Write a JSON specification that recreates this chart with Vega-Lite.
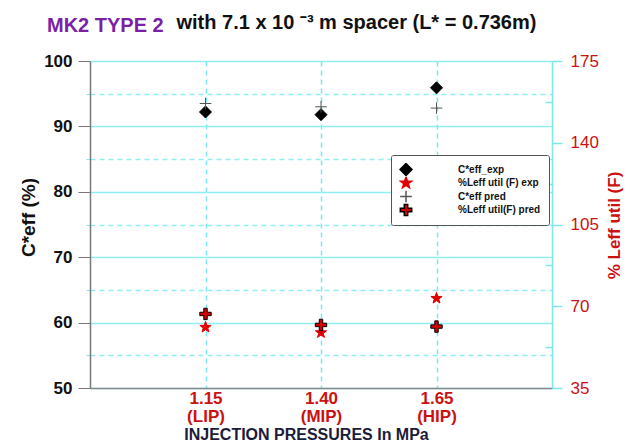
{
  "$schema": "https://vega.github.io/schema/vega-lite/v6.json",
  "width": 462,
  "height": 327,
  "autosize": "none",
  "padding": {"left": 90, "top": 61, "right": 88, "bottom": 55},
  "background": "white",
  "config": {
    "font": "Liberation Sans",
    "view": {"stroke": null},
    "axis": {"labelFont": "Liberation Sans", "titleFont": "Liberation Sans"},
    "legend": {"labelFont": "Liberation Sans"}
  },
  "title": {
    "text": "MK2 TYPE 2",
    "color": "#7b1fa6",
    "fontSize": 20,
    "fontWeight": "bold",
    "anchor": "start",
    "frame": "group",
    "dx": -43,
    "offset": 0,
    "dy": 40,
    "baseline": "alphabetic"
  },
  "datasets": {
    "readings": [
      {"pressure": "1.15 (LIP)", "series": "C*eff_exp", "panel": "ceff", "value": 92.2},
      {"pressure": "1.40 (MIP)", "series": "C*eff_exp", "panel": "ceff", "value": 91.8},
      {"pressure": "1.65 (HIP)", "series": "C*eff_exp", "panel": "ceff", "value": 95.9},
      {"pressure": "1.15 (LIP)", "series": "C*eff pred", "panel": "ceff", "value": 93.5},
      {"pressure": "1.40 (MIP)", "series": "C*eff pred", "panel": "ceff", "value": 93.0},
      {"pressure": "1.65 (HIP)", "series": "C*eff pred", "panel": "ceff", "value": 92.8},
      {"pressure": "1.15 (LIP)", "series": "%Leff util (F) exp", "panel": "leff", "value": 61.0},
      {"pressure": "1.40 (MIP)", "series": "%Leff util (F) exp", "panel": "leff", "value": 58.7},
      {"pressure": "1.65 (HIP)", "series": "%Leff util (F) exp", "panel": "leff", "value": 73.4},
      {"pressure": "1.15 (LIP)", "series": "%Leff util(F) pred", "panel": "leff", "value": 66.7},
      {"pressure": "1.40 (MIP)", "series": "%Leff util(F) pred", "panel": "leff", "value": 62.0},
      {"pressure": "1.65 (HIP)", "series": "%Leff util(F) pred", "panel": "leff", "value": 61.3}
    ]
  },
  "data": {"name": "readings"},
  "encoding": {
    "shape": {
      "field": "series",
      "type": "nominal",
      "scale": {
        "domain": ["C*eff_exp", "%Leff util (F) exp", "C*eff pred", "%Leff util(F) pred"],
        "range": [
          "diamond",
          "M0,-1L0.235,-0.324L0.951,-0.309L0.38,0.124L0.588,0.809L0,0.4L-0.588,0.809L-0.38,0.124L-0.951,-0.309L-0.235,-0.324Z",
          "M-1,0H1M0,-1V1",
          "M-0.3,-1H0.3V-0.3H1V0.3H0.3V1H-0.3V0.3H-1V-0.3H-0.3Z"
        ]
      },
      "legend": {
        "orient": "none",
        "legendX": 301,
        "legendY": 94,
        "title": null,
        "padding": 8,
        "strokeColor": "#555555",
        "fillColor": "white",
        "cornerRadius": 2,
        "labelFontSize": 10,
        "labelFontWeight": "bold",
        "labelColor": "#111111",
        "labelOffset": 45,
        "clipHeight": 13,
        "rowPadding": 0.5
      }
    },
    "fill": {
      "field": "series",
      "type": "nominal",
      "scale": {
        "domain": ["C*eff_exp", "%Leff util (F) exp", "C*eff pred", "%Leff util(F) pred"],
        "range": ["#000000", "#e00000", "#ffffff00", "#d40000"]
      }
    },
    "stroke": {
      "field": "series",
      "type": "nominal",
      "scale": {
        "domain": ["C*eff_exp", "%Leff util (F) exp", "C*eff pred", "%Leff util(F) pred"],
        "range": ["#000000", "#e00000", "#555555", "#000000"]
      }
    },
    "size": {
      "field": "series",
      "type": "nominal",
      "scale": {
        "domain": ["C*eff_exp", "%Leff util (F) exp", "C*eff pred", "%Leff util(F) pred"],
        "range": [144, 130, 100, 169]
      }
    }
  },
  "layer": [
    {
      "transform": [{"filter": "datum.panel === 'ceff'"}],
      "mark": {"type": "point", "opacity": 1, "strokeWidth": 1},
      "encoding": {
        "x": {
          "field": "pressure",
          "type": "ordinal",
          "scale": {"type": "point", "padding": 1, "domain": ["1.15 (LIP)", "1.40 (MIP)", "1.65 (HIP)"]},
          "axis": {
            "orient": "bottom",
            "title": "INJECTION PRESSURES In MPa",
            "titleFontSize": 16,
            "titleFontWeight": "bold",
            "titleColor": "#1b1b3a",
            "titleX": 216,
            "titleY": 51,
            "titleBaseline": "alphabetic",
            "labelAngle": 0,
            "labelExpr": "split(datum.label, ' ')",
            "labelColor": "#cc1111",
            "labelFontSize": 17,
            "labelFontWeight": "bold",
            "labelLineHeight": 18,
            "labelPadding": 2,
            "ticks": false,
            "domainColor": "#888888",
            "domainWidth": 1.5,
            "grid": true,
            "gridColor": "#7fe6ee",
            "gridDash": [5, 4],
            "gridWidth": 1.5
          }
        },
        "y": {
          "field": "value",
          "type": "quantitative",
          "scale": {"domain": [50, 100], "zero": false, "nice": false},
          "axis": {
            "orient": "left",
            "values": [50, 55, 60, 65, 70, 75, 80, 85, 90, 95, 100],
            "labelExpr": "datum.value % 10 === 0 ? datum.label : ''",
            "labelFontSize": 17,
            "labelFontWeight": "bold",
            "labelColor": "#111111",
            "labelPadding": 6,
            "tickSize": {"condition": {"test": "datum.value % 10 === 0", "value": 12}, "value": 4},
            "tickColor": {"condition": {"test": "datum.value % 10 === 0", "value": "#777777"}, "value": "#7fe6ee"},
            "domainColor": "#777777",
            "domainWidth": 1.5,
            "grid": true,
            "gridColor": "#8eeef3",
            "gridWidth": 1.5,
            "gridDash": {"condition": {"test": "datum.value % 10 === 0", "value": []}, "value": [5, 4]},
            "title": "C*eff (%)",
            "titleFontSize": 19,
            "titleFontWeight": "bold",
            "titleColor": "#111111",
            "titleAngle": 270,
            "titleX": -62,
            "titleY": 156,
            "titleBaseline": "middle"
          }
        }
      }
    },
    {
      "transform": [{"filter": "datum.panel === 'leff'"}],
      "mark": {"type": "point", "opacity": 1, "strokeWidth": 1},
      "encoding": {
        "x": {
          "field": "pressure",
          "type": "ordinal",
          "scale": {"type": "point", "padding": 1, "domain": ["1.15 (LIP)", "1.40 (MIP)", "1.65 (HIP)"]},
          "axis": {
            "orient": "top",
            "labels": false,
            "ticks": false,
            "domain": false,
            "grid": false,
            "title": "with 7.1 x 10 \u207b\u00b3 m spacer (L* =  0.736m)",
            "titleFontSize": 20,
            "titleFontWeight": "bold",
            "titleColor": "#111111",
            "titleX": 86,
            "titleY": -33,
            "titleAlign": "left",
            "titleAnchor": "start",
            "titleBaseline": "alphabetic",
            "titleAngle": 0
          }
        },
        "y": {
          "field": "value",
          "type": "quantitative",
          "scale": {"domain": [35, 175], "zero": false, "nice": false},
          "axis": {
            "orient": "right",
            "values": [35, 52.5, 70, 87.5, 105, 122.5, 140, 157.5, 175],
            "labelExpr": "datum.value % 35 === 0 ? datum.label : ''",
            "labelFontSize": 17,
            "labelColor": "#cc1111",
            "labelPadding": 8,
            "tickSize": {"condition": {"test": "datum.value % 35 === 0", "value": 10}, "value": -7},
            "tickColor": "#7fe6ee",
            "tickWidth": 1.5,
            "domainColor": "#7fe6ee",
            "domainWidth": 1.5,
            "grid": false,
            "title": "% Leff util (F)",
            "titleFontSize": 17,
            "titleFontWeight": "bold",
            "titleColor": "#cc1111",
            "titleAngle": 270,
            "titleX": 62,
            "titleY": 164,
            "titleBaseline": "middle"
          }
        }
      }
    }
  ],
  "resolve": {"scale": {"y": "independent"}, "axis": {"x": "independent"}}
}
